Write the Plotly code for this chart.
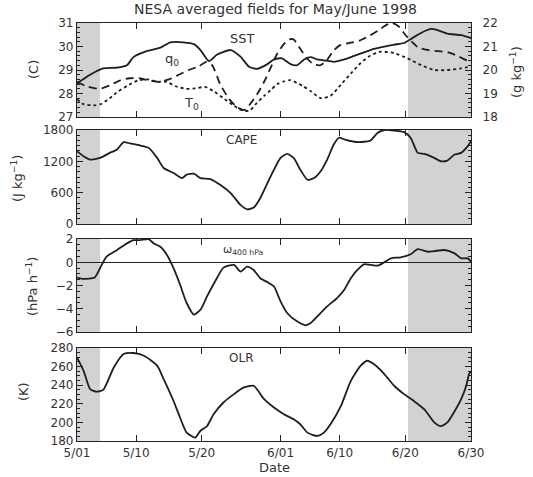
import plotly.graph_objects as go

# ---------------- data (day of period: 1 = 5/01, 61 = 6/30) ----------------
sst_day = [1.0, 3.0, 5.0, 7.1, 8.6, 9.6, 11.6, 13.7, 15.2, 17.2, 18.8, 19.8, 21.1, 22.3, 24.4,
           25.9, 27.2, 28.4, 30.0, 31.0, 32.2, 33.5, 34.5, 35.6, 36.6, 37.6, 38.9, 40.1, 41.7,
           43.2, 44.7, 46.2, 47.8, 49.3, 50.8, 52.3, 53.9, 54.9, 55.9, 57.4, 59.5, 61.0]
sst_val = [28.43, 28.8, 29.07, 29.1, 29.2, 29.55, 29.8, 29.95, 30.18, 30.18, 30.1, 29.85, 29.38,
           29.65, 29.85, 29.57, 29.14, 29.05, 29.25, 29.45, 29.5, 29.25, 29.2, 29.45, 29.55,
           29.45, 29.4, 29.35, 29.45, 29.6, 29.75, 29.9, 30.0, 30.08, 30.15, 30.4, 30.65, 30.75,
           30.7, 30.55, 30.48, 30.36]

q0_day = [1.0, 2.5, 4.5, 6.0, 7.5, 9.0, 10.5, 12.0, 13.5, 15.0, 16.5, 18.0, 19.5, 20.7, 21.6,
          22.8, 24.2, 25.5, 26.5, 27.5, 28.5, 29.5, 30.5, 31.5, 32.5, 33.3, 34.0, 35.0, 36.0,
          37.0, 38.0, 39.0, 40.0, 41.0, 42.5, 44.0, 45.5, 47.0, 48.0, 49.0, 50.0, 51.0, 52.0,
          53.0, 54.5, 56.0, 57.5, 59.0, 60.0, 61.0]
q0_val = [19.5, 19.3, 19.2, 19.35, 19.55, 19.65, 19.65, 19.55, 19.5, 19.6, 19.8, 20.0, 20.15,
          20.35, 20.2, 19.4, 18.75, 18.4, 18.3, 18.6, 19.0, 19.5, 20.1, 20.7, 21.1, 21.3, 21.3,
          20.9, 20.5, 20.25, 20.2, 20.4, 20.8, 21.05, 21.15, 21.25, 21.45, 21.7, 21.9, 22.0,
          21.85, 21.5, 21.2, 20.95, 20.85, 20.8, 20.75, 20.6, 20.45, 20.35]

t0_day = [1.0, 2.0, 3.5, 4.6, 6.0, 7.3, 8.8, 10.2, 11.7, 13.2, 14.6, 16.1, 17.6, 19.0, 20.5,
          21.8, 23.3, 24.8, 26.0, 26.6, 27.4, 28.4, 29.5, 30.5, 31.5, 32.5, 33.5, 34.5, 35.5,
          36.6, 38.1, 39.6, 41.2, 42.7, 44.2, 45.7, 47.3, 49.3, 51.3, 53.4, 55.4, 57.4, 59.5, 61.0]
t0_val = [27.75, 27.55, 27.5, 27.55, 27.8, 28.1, 28.35, 28.55, 28.6, 28.5, 28.5, 28.3, 28.2,
          28.22, 28.28, 28.1, 27.8, 27.5, 27.3, 27.25, 27.3, 27.6, 27.9, 28.15, 28.4, 28.52,
          28.57, 28.45, 28.3, 28.1, 27.8, 27.9, 28.38, 28.85, 29.3, 29.62, 29.78, 29.72, 29.5,
          29.21, 29.0, 29.0, 29.07, 29.15]

cape_day = [1.0, 2.0, 3.0, 4.5, 6.0, 7.1, 8.1, 9.1, 10.6, 11.9, 13.2, 14.2, 15.7, 17.0, 17.7,
            18.8, 19.8, 21.3, 22.8, 24.4, 25.9, 26.9, 27.9, 28.9, 30.0, 31.0, 32.0, 33.0, 34.0,
            35.0, 36.1, 37.1, 38.1, 39.1, 40.1, 40.9, 41.7, 43.2, 44.7, 45.7, 46.8, 47.8, 49.3,
            50.8, 51.8, 52.9, 53.9, 55.4, 56.4, 57.4, 58.5, 59.5, 60.5, 61.0]
cape_val = [1395, 1298, 1234, 1266, 1362, 1427, 1568, 1542, 1504, 1459, 1266, 1073, 977, 880,
            945, 964, 880, 861, 752, 591, 366, 283, 315, 495, 784, 1041, 1266, 1343, 1266,
            1041, 848, 880, 1009, 1234, 1523, 1652, 1620, 1575, 1575, 1600, 1748, 1800, 1790,
            1760, 1652, 1362, 1343, 1266, 1202, 1215, 1330, 1362, 1491, 1587]

omega_day = [1.0, 2.0, 3.7, 4.5, 5.5, 7.1, 8.6, 9.6, 10.6, 11.9, 12.7, 13.7, 14.7, 15.7, 16.7,
             17.7, 18.8, 19.8, 20.8, 22.3, 23.3, 24.9, 25.9, 26.9, 27.9, 28.9, 30.0, 31.0, 32.0,
             33.0, 34.5, 35.8, 36.6, 37.6, 39.1, 40.6, 41.7, 42.7, 43.7, 44.7, 45.7, 46.8, 47.8,
             48.8, 50.3, 51.8, 52.9, 54.4, 55.4, 57.0, 58.5, 59.5, 60.5, 61.0]
omega_val = [-1.31, -1.43, -1.31, -0.51, 0.49, 1.06, 1.63, 1.91, 1.91, 2.0, 1.63, 1.34, 0.63,
             -0.51, -1.94, -3.51, -4.51, -4.09, -2.94, -1.37, -0.46, -0.23, -0.8, -0.37, -0.66,
             -1.37, -1.71, -2.09, -3.37, -4.37, -5.09, -5.43, -5.23, -4.66, -3.8, -3.09, -2.37,
             -1.37, -0.66, -0.17, -0.23, -0.29, 0.0, 0.34, 0.43, 0.69, 1.14, 0.91, 0.97, 1.06,
             0.77, 0.34, 0.34, 0.06]

olr_day = [1.0, 2.0, 3.0, 4.0, 5.0, 6.6, 8.1, 9.6, 11.2, 13.2, 14.2, 15.7, 16.7, 17.7, 19.0,
           19.8, 20.8, 21.8, 23.3, 24.9, 26.4, 27.9, 29.5, 31.0, 32.5, 34.0, 35.0, 36.1, 37.6,
           38.6, 39.6, 41.2, 42.7, 44.2, 45.2, 46.2, 47.8, 49.3, 50.8, 52.3, 53.9, 55.4, 56.4,
           57.4, 58.5, 59.5, 60.3, 60.7, 61.0]
olr_val = [270, 255.5, 235.8, 233, 235, 259, 273.5, 274.6, 271.7, 261, 246.5, 223, 205, 189,
           183.6, 191, 196, 208.8, 221.4, 230.4, 237.6, 239.4, 225, 216, 208.8, 203.4, 198, 189,
           185.4, 189, 198, 217.8, 244.7, 261, 266.3, 262.7, 252, 239.4, 230.4, 223, 214, 200,
           196, 200, 212, 225, 240, 252, 255]

shade_periods = [(1.0, 4.5), (51.4, 61.0)]
tick_days = [1, 10, 20, 32, 41, 51, 61]
tick_text = ["5/01", "5/10", "5/20", "6/01", "6/10", "6/20", "6/30"]

# ---------------- figure ----------------
LINE = "#1e1e1e"
FONT = "DejaVu Sans"
fig = go.Figure()

def add(x, y, xa, ya, dash="solid"):
    fig.add_trace(go.Scatter(x=x, y=y, xaxis=xa, yaxis=ya, mode="lines",
                             line=dict(color=LINE, width=1.8, dash=dash, shape="spline",
                                       smoothing=0.6),
                             showlegend=False, hoverinfo="skip"))

add(sst_day, sst_val, "x", "y")
add(t0_day, t0_val, "x", "y", "3px,3px")
add(q0_day, q0_val, "x", "y5", "8px,5px")
add(cape_day, cape_val, "x2", "y2")
add(omega_day, omega_val, "x3", "y3")
add(olr_day, olr_val, "x4", "y4")

domains = [[0.775, 1.0], [0.519, 0.744], [0.261, 0.483], [0.0, 0.2225]]
yspecs = [
    dict(range=[27, 31], dtick=1, minor=dict(dtick=0.2)),
    dict(range=[0, 1800], dtick=600, minor=dict(dtick=100)),
    dict(range=[-6, 2], dtick=2, minor=dict(dtick=0.5)),
    dict(range=[180, 280], dtick=20, minor=dict(dtick=5)),
]

axcommon = dict(showline=True, linecolor="#222", linewidth=1.3, ticks="inside",
                tickcolor="#222", ticklen=6, tickwidth=1.2, showgrid=False, zeroline=False,
                tickfont=dict(family=FONT, size=12, color="#333"))

layout = dict(width=533, height=477, autosize=False, plot_bgcolor="white",
              paper_bgcolor="white", margin=dict(l=77, r=62, t=23, b=36), showlegend=False)

for i in range(4):
    k = "" if i == 0 else str(i + 1)
    xa = dict(axcommon)
    xa.update(domain=[0, 1], anchor="y" + k, range=[1, 61], tickvals=tick_days,
              ticktext=tick_text, mirror="ticks", showticklabels=(i == 3))
    if i > 0:
        xa["matches"] = "x"
    layout["xaxis" + k] = xa
    ya = dict(axcommon)
    ya.update(domain=domains[i], anchor="x" + k, mirror=("ticks" if i > 0 else True))
    ya.update(yspecs[i])
    ya["minor"] = dict(ya["minor"], ticks="inside", ticklen=3, tickcolor="#222", showgrid=False)
    layout["yaxis" + k] = ya

ya5 = dict(axcommon)
ya5.update(overlaying="y", side="right", anchor="x", range=[18, 22], dtick=1,
           ticklabelstandoff=8,
           minor=dict(dtick=0.2, ticks="inside", ticklen=3, tickcolor="#222", showgrid=False))
layout["yaxis5"] = ya5
layout["yaxis3"]["zeroline"] = True
layout["yaxis3"]["zerolinecolor"] = "#222"
layout["yaxis3"]["zerolinewidth"] = 1.2

fig.update_layout(**layout)

shapes = []
for i in range(4):
    k = "" if i == 0 else str(i + 1)
    for (a, b) in shade_periods:
        shapes.append(dict(type="rect", xref="x" + k, yref=("y" + k + " domain"), x0=a, x1=b,
                           y0=0, y1=1, fillcolor="#d2d2d2", line=dict(width=0), layer="below"))
fig.update_layout(shapes=shapes)

def ann(text, x, y, size=12, angle=0):
    fig.add_annotation(text=text, x=x, y=y, xref="paper", yref="paper", showarrow=False,
                       textangle=angle, font=dict(family=FONT, size=size, color="#333"),
                       xanchor="center", yanchor="middle")

W, H = 533.0, 477.0
L, R, T, B = 77.0, 62.0, 23.0, 36.0
def px(x): return (x - L) / (W - L - R)
def py(y): return (H - B - y) / (H - T - B)

ann("NESA averaged fields for May/June 1998", px(275), py(9), 14)
ann("SST", px(242), py(39), 13)
ann("q<sub>0</sub>", px(172), py(60), 13)
ann("T<sub>0</sub>", px(191), py(103), 13)
ann("CAPE", px(241), py(140), 12)
ann("ω<sub>400 hPa</sub>", px(243), py(250), 11)
ann("OLR", px(241), py(358), 12)
ann("Date", px(274), py(467), 13)
ann("(C)", px(33), py(70), 13, -90)
ann("(J kg<sup>−1</sup>)", px(17), py(178), 13, -90)
ann("(hPa h<sup>−1</sup>)", px(32), py(287), 13, -90)
ann("(K)", px(23), py(392), 13, -90)
ann("(g kg<sup>−1</sup>)", px(516), py(72), 13, -90)

fig.write_html("out.html", config={"displayModeBar": False},
               post_script="document.body.style.margin='0';")
